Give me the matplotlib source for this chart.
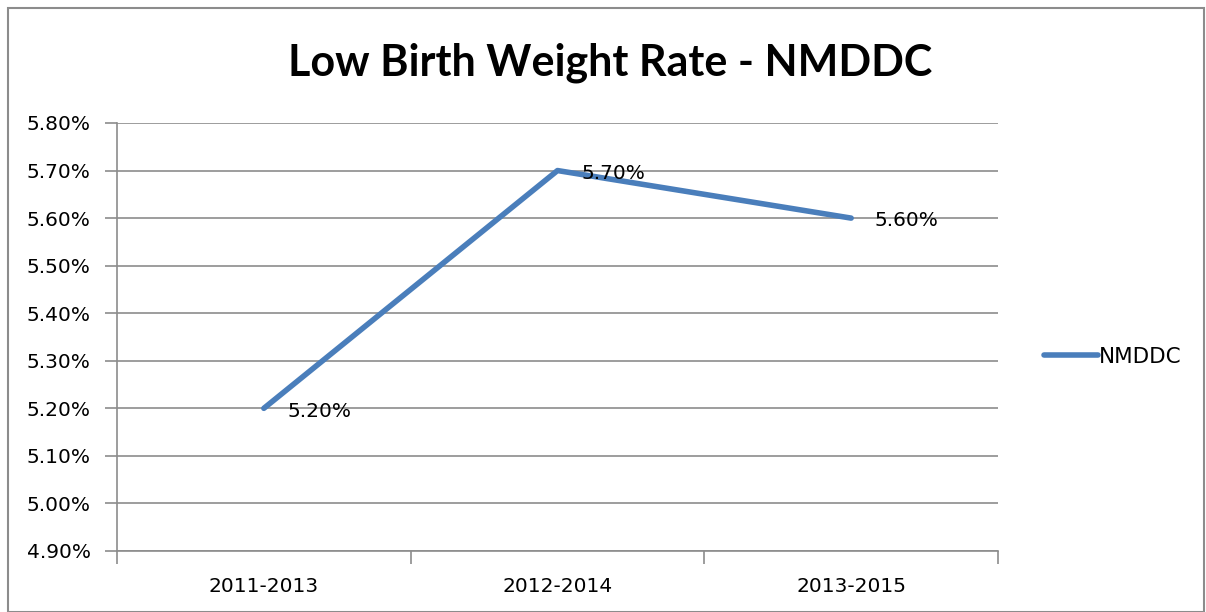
import matplotlib.pyplot as plt
from matplotlib.patches import Rectangle
from matplotlib.ticker import FixedLocator, NullFormatter

periods = ['2011-2013', '2012-2014', '2013-2015']
rates = [5.20, 5.70, 5.60]
yticks = [4.90, 5.00, 5.10, 5.20, 5.30, 5.40, 5.50, 5.60, 5.70, 5.80]

plt.rcParams['font.family'] = ['DejaVu Sans']
fs = 14.5

fig = plt.figure(figsize=(12.06, 6.12), dpi=100)
ax = fig.add_axes([117/1206, 1-551/612, (998-117)/1206, (551-123)/612])

x = list(range(len(periods)))
ax.plot(x, rates, color='#4a7ebb', linewidth=4, solid_capstyle='round', label='NMDDC')
for xi, r in zip(x, rates):
    ax.annotate('%.2f%%' % r, (xi, r), xytext=(17, -2), textcoords='offset points',
                ha='left', va='center', fontsize=fs, color='black')

ax.set_xlim(-0.5, 2.5)
ax.set_ylim(4.90, 5.80)
ax.set_yticks(yticks)
ax.set_yticklabels(['%.2f%%' % v for v in yticks], fontsize=fs)
ax.grid(axis='y', color='#8c8c8c', linewidth=1.2)
ax.set_axisbelow(True)

ax.xaxis.set_major_locator(FixedLocator([-0.5, 0.5, 1.5, 2.5]))
ax.xaxis.set_major_formatter(NullFormatter())
ax.xaxis.set_minor_locator(FixedLocator(x))
ax.set_xticklabels(periods, minor=True, fontsize=fs)
ax.tick_params(axis='x', which='minor', length=0, pad=19)
ax.tick_params(axis='x', which='major', length=9, color='#8c8c8c', width=1.2)
ax.tick_params(axis='y', length=9, color='#8c8c8c', width=1.2, pad=10)

for s in ['top', 'right']:
    ax.spines[s].set_visible(False)
for s in ['left', 'bottom']:
    ax.spines[s].set_color('#8c8c8c')
    ax.spines[s].set_linewidth(1.2)

fig.text(610/1206, 1-63/612, 'Low Birth Weight Rate - NMDDC', ha='center', va='center',
         fontsize=31, fontweight='bold', family='Lato')

fig.legend(loc='center left', bbox_to_anchor=(1025/1206, 1-357/612), frameon=False,
           fontsize=15.5, handlelength=2.5, handletextpad=0.05)

fig.patches.append(Rectangle((8/1206, 0), 1196/1206, 1-8/612, transform=fig.transFigure,
                             fill=False, edgecolor='#8c8c8c', linewidth=1.5))

fig.savefig('out.png', dpi=100)
